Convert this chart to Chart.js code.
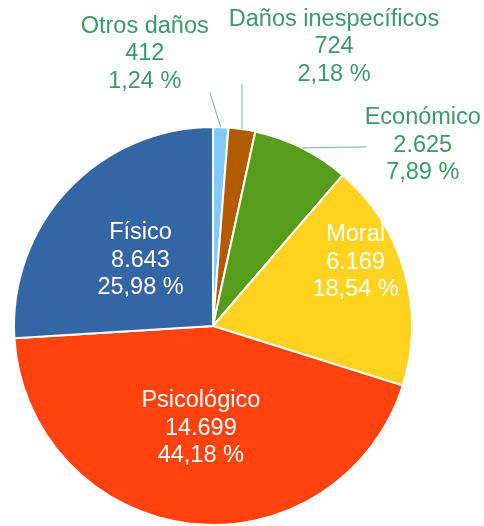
<!DOCTYPE html>
<html>
<head>
<meta charset="utf-8">
<script src="https://cdn.jsdelivr.net/npm/chart.js@4/dist/chart.umd.min.js"></script>
<style>
    html, body { margin: 0; padding: 0; background: #fff; }
    #wrap { width: 484px; height: 526px; }
</style>
</head>
<body>
<div id="wrap"><canvas id="pieChart" width="484" height="526"></canvas></div>
<script>
// Data (clockwise from 12 o'clock)
const categories = ['Otros daños', 'Daños inespecíficos', 'Económico', 'Moral', 'Psicológico', 'Físico'];
const values = [412, 724, 2625, 6169, 14699, 8643];
const slice_colors = ['#83CAFF', '#B45A00', '#579D1C', '#FFD320', '#FF420E', '#3465A4'];

// Label placement (style only): inside labels use radius fraction + angle nudge,
// outside labels use a leader line from the slice edge and a text offset
const label_styles = [
    { outside: true, leader: [-11, -35], text: [-76, -76] },
    { outside: true, leader: [0, -45], text: [92, -85] },
    { outside: true, leader: [65, -1], text: [121, -5] },
    { frac: 0.79, turn: -9 },
    { frac: 0.505, turn: 0 },
    { frac: 0.5, turn: 0 }
];

const label_font = '23.5px "Liberation Sans", Arial, sans-serif';
const line_gap = 27.5;
const text_shift = 2.5;
const outside_color = '#3A9A68';
const leader_color = '#6DB892';

function format_thousands(n) {
    return String(n).replace(/\B(?=(\d{3})+(?!\d))/g, '.');
}

function format_percent(v, total) {
    return (v / total * 100).toFixed(2).replace('.', ',') + ' %';
}

const slice_labels = {
    id: 'sliceLabels',
    afterDatasetsDraw(chart) {
        const ctx = chart.ctx;
        const meta = chart.getDatasetMeta(0);
        const total = values.reduce((a, b) => a + b, 0);
        ctx.save();
        ctx.font = label_font;
        ctx.textAlign = 'center';
        ctx.textBaseline = 'middle';
        meta.data.forEach((arc, i) => {
            const style = label_styles[i];
            const mid = (arc.startAngle + arc.endAngle) / 2;
            const lines = [categories[i], format_thousands(values[i]), format_percent(values[i], total)];
            let tx, ty;
            if (style.outside) {
                const ex = arc.x + Math.cos(mid) * arc.outerRadius;
                const ey = arc.y + Math.sin(mid) * arc.outerRadius;
                ctx.strokeStyle = leader_color;
                ctx.lineWidth = 1;
                ctx.beginPath();
                ctx.moveTo(ex, ey);
                ctx.lineTo(ex + style.leader[0], ey + style.leader[1]);
                ctx.stroke();
                tx = ex + style.text[0];
                ty = ey + style.text[1];
                ctx.fillStyle = outside_color;
            } else {
                const a = mid + style.turn * Math.PI / 180;
                tx = arc.x + Math.cos(a) * arc.outerRadius * style.frac;
                ty = arc.y + Math.sin(a) * arc.outerRadius * style.frac;
                ctx.fillStyle = '#ffffff';
            }
            lines.forEach((txt, k) => {
                ctx.fillText(txt, tx, ty + text_shift + (k - 1) * line_gap);
            });
        });
        ctx.restore();
    }
};

new Chart(document.getElementById('pieChart').getContext('2d'), {
    type: 'pie',
    data: {
        labels: categories,
        datasets: [{
            data: values,
            backgroundColor: slice_colors,
            borderColor: '#ffffff',
            borderWidth: 2
        }]
    },
    options: {
        responsive: false,
        animation: false,
        layout: {
            padding: { left: 12, right: 70, top: 126, bottom: 0 }
        },
        plugins: {
            legend: { display: false },
            tooltip: { enabled: false }
        }
    },
    plugins: [slice_labels]
});
</script>
</body>
</html>
